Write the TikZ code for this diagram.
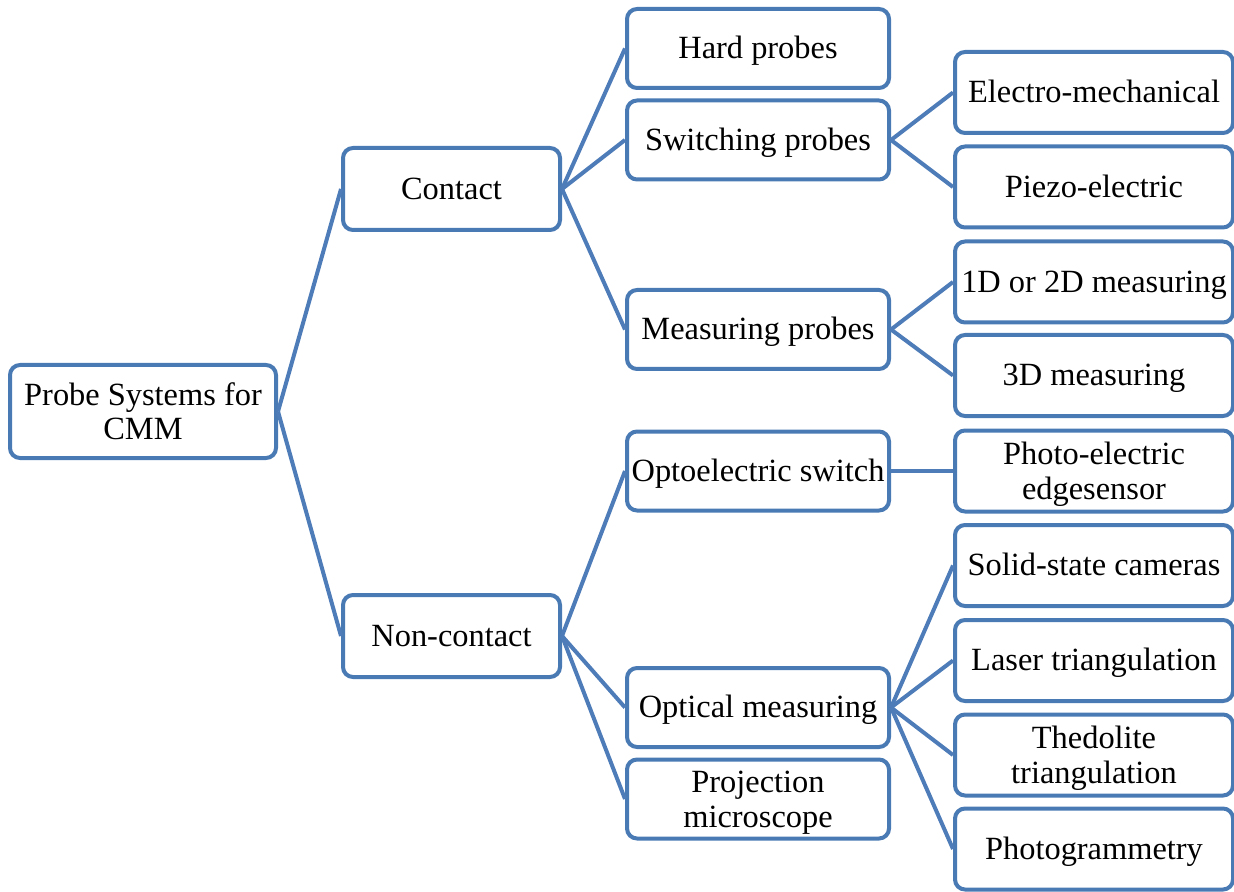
\documentclass[tikz,border=0pt]{standalone}
\usepackage{fontspec}
\setmainfont{Liberation Serif}
\begin{document}
\begin{tikzpicture}[x=0.5pt,y=-0.5pt,
  edgeblue/.style={draw=linkblue,line width=2pt},
  box/.style={draw=boxblue,line width=2pt,rounded corners=5pt,fill=white,
    align=center,inner sep=0pt,font=\fontsize{16.2}{17.2}\selectfont,
    text height=13.9pt,text depth=3.6pt},
  twolines/.style={text height=31.8pt},
  rootbox/.style={box,twolines,minimum width=133pt,minimum height=46.5pt},
  midbox/.style={box,minimum width=108.5pt,minimum height=41pt},
  subbox/.style={box,minimum width=131pt,minimum height=39.5pt},
  leafbox/.style={box,minimum width=139pt,minimum height=40.5pt}]
\definecolor{boxblue}{RGB}{74,122,180}
\definecolor{linkblue}{RGB}{78,124,184}
\useasboundingbox (0,0) rectangle (1234,892);

% root and first level
\node[rootbox] (root) at (143,411.5) {Probe Systems for\\CMM};
\node[midbox] (contact) at (451.5,189) {Contact};
\node[midbox] (noncontact) at (451.5,636) {Non-contact};

% second level
\node[subbox] (hard) at (758,48.5) {Hard probes};
\node[subbox] (switching) at (758,140) {Switching probes};
\node[subbox] (measuring) at (758,329.5) {Measuring probes};
\node[subbox] (opto) at (758,471) {Optoelectric switch};
\node[subbox] (optical) at (758,707.5) {Optical measuring};
\node[subbox,twolines] (projection) at (758,799) {Projection\\microscope};

% third level
\node[leafbox] (electro) at (1094,92.5) {Electro-mechanical};
\node[leafbox] (piezo) at (1094,187) {Piezo-electric};
\node[leafbox] (oned) at (1094,282) {1D or 2D measuring};
\node[leafbox] (threed) at (1094,375.5) {3D measuring};
\node[leafbox,twolines] (photo) at (1094,471) {Photo-electric\\edgesensor};
\node[leafbox] (solid) at (1094,565.5) {Solid-state cameras};
\node[leafbox] (laser) at (1094,660.5) {Laser triangulation};
\node[leafbox,twolines] (thedolite) at (1094,755) {Thedolite\\triangulation};
\node[leafbox] (photogram) at (1094,849) {Photogrammetry};

% connectors
\foreach \a/\b in {root/contact,root/noncontact,
  contact/hard,contact/switching,contact/measuring,
  noncontact/opto,noncontact/optical,noncontact/projection,
  switching/electro,switching/piezo,
  measuring/oned,measuring/threed,
  opto/photo,
  optical/solid,optical/laser,optical/thedolite,optical/photogram}
  \draw[edgeblue] (\a.east) -- (\b.west);
\end{tikzpicture}
\end{document}
